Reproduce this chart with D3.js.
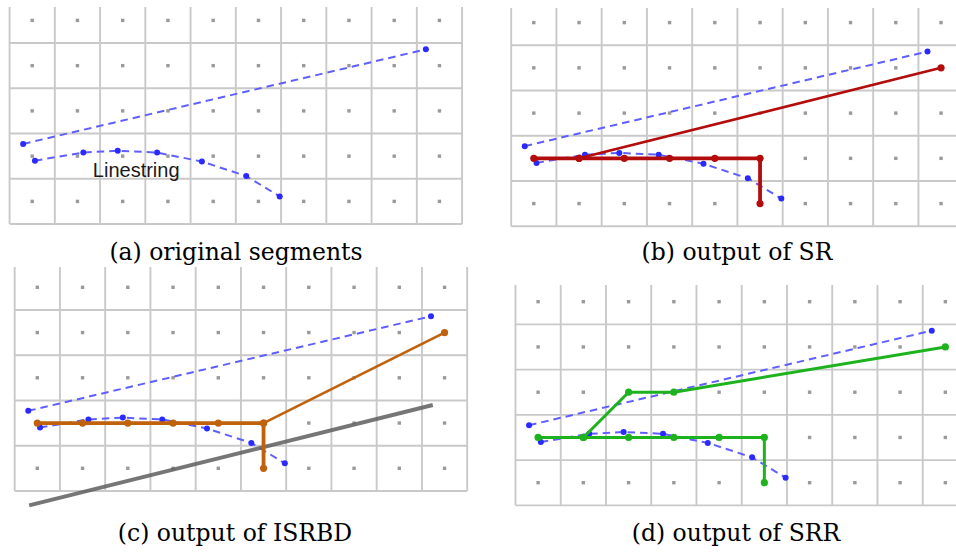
<!DOCTYPE html>
<html>
<head>
<meta charset="utf-8">
<script src="https://cdn.jsdelivr.net/npm/d3@7"></script>
<style>
  html, body { margin: 0; padding: 0; background: #fff; }
  svg { display: block; }
</style>
</head>
<body>
<svg id="chart" width="956" height="554"></svg>
<script>
// ---- data (grid units: column index 0..9, row index 0..4 top to bottom) ----
const gridCols = [0, 1, 2, 3, 4, 5, 6, 7, 8, 9];
const gridRows = [0, 1, 2, 3, 4];

const longSegment = [[-0.2, 2.73], [8.7, 0.64]];
const linestring = [[0.06, 3.1], [1.13, 2.92], [1.89, 2.88], [2.76, 2.92], [3.75, 3.12], [4.73, 3.44], [5.47, 3.89]];

const baseRun = [[0, 3], [1, 3], [2, 3], [3, 3], [4, 3], [5, 3], [5, 4]];
const srBranch = [[1, 3], [9, 1]];
const isrbdBranch = [[5, 3], [9, 1]];
const isrbdBoundary = [[-0.18, 4.82], [8.74, 2.6]];
const srrBranch = [[1, 3], [2, 2], [3, 2], [9, 1]];

const captions = ["(a) original segments", "(b) output of SR", "(c) output of ISRBD", "(d) output of SRR"];

// ---- layout ----
const cell = 45.25;
const panels = [
  { id: "a", cx: 32.2, cy: 20.4, top: 7, right: 956, capX: 236, capY: 260 },
  { id: "b", cx: 533.8, cy: 22.6, top: 8, right: 956, capX: 737, capY: 260 },
  { id: "c", cx: 37.3, cy: 287.3, top: 267, right: 956, capX: 235, capY: 541 },
  { id: "d", cx: 538.1, cy: 301.7, top: 285, right: 956, capX: 736, capY: 541 }
];

const svg = d3.select("#chart");
const defs = svg.append("defs");

panels.forEach((p, i) => {
  const x = d3.scaleLinear().domain([0, 1]).range([p.cx, p.cx + cell]);
  const y = d3.scaleLinear().domain([0, 1]).range([p.cy, p.cy + cell]);
  const line = d3.line().x(d => x(d[0])).y(d => y(d[1]));

  const x0 = x(-0.5), x1 = x(gridCols.length - 0.5);
  const y1 = y(gridRows.length - 0.5);

  defs.append("clipPath").attr("id", "clip" + p.id)
    .append("rect")
    .attr("x", x0 - 2).attr("y", p.top)
    .attr("width", Math.min(x1, p.right) - x0 + 4)
    .attr("height", y1 - p.top + 2);

  const g = svg.append("g");
  const grid = g.append("g").attr("clip-path", `url(#clip${p.id})`);

  // vertical grid lines
  const vb = d3.range(gridCols.length + 1).map(k => k - 0.5);
  grid.selectAll("line.v").data(vb).join("line")
    .attr("x1", d => x(d)).attr("x2", d => x(d))
    .attr("y1", y(-0.5) - 5).attr("y2", y1)
    .attr("stroke", "#c9c9c9").attr("stroke-width", 1.9);
  // horizontal grid lines
  const hb = d3.range(1, gridRows.length + 1).map(k => k - 0.5);
  grid.selectAll("line.h").data(hb).join("line")
    .attr("x1", x0).attr("x2", x1)
    .attr("y1", d => y(d)).attr("y2", d => y(d))
    .attr("stroke", "#c9c9c9").attr("stroke-width", 1.9);
  // cell centre dots
  const centres = gridRows.flatMap(r => gridCols.map(c => [c, r]));
  grid.selectAll("rect.dot").data(centres).join("rect")
    .attr("x", d => x(d[0]) - 1.7).attr("y", d => y(d[1]) - 1.7)
    .attr("width", 3.4).attr("height", 3.4)
    .attr("fill", "#9a9a9a");

  // original segments (blue dashed)
  [longSegment, linestring].forEach(seg => {
    g.append("path").attr("d", line(seg))
      .attr("fill", "none").attr("stroke", "#5f5fff")
      .attr("stroke-width", 2).attr("stroke-dasharray", "7.5,5");
    g.selectAll(null).data(seg).join("circle")
      .attr("cx", d => x(d[0])).attr("cy", d => y(d[1]))
      .attr("r", 3).attr("fill", "#2a2aff");
  });

  const drawOutput = (paths, colour, widths, r) => {
    paths.forEach((seg, k) => {
      g.append("path").attr("d", line(seg))
        .attr("fill", "none").attr("stroke", colour)
        .attr("stroke-width", widths[k]).attr("stroke-linejoin", "round");
    });
    paths.forEach(seg => {
      g.selectAll(null).data(seg).join("circle")
        .attr("cx", d => x(d[0])).attr("cy", d => y(d[1]))
        .attr("r", r).attr("fill", colour);
    });
  };

  if (p.id === "a") {
    g.append("text").attr("x", x(1.34)).attr("y", y(3.46))
      .attr("font-family", "Liberation Sans, Arial, sans-serif")
      .attr("font-size", 20).attr("fill", "#1a1a1a").text("Linestring");
  }
  if (p.id === "b") {
    drawOutput([srBranch, baseRun], "#b30c0c", [2.6, 3.8], 3.6);
  }
  if (p.id === "c") {
    g.append("path").attr("d", line(isrbdBoundary))
      .attr("fill", "none").attr("stroke", "#5e5e5e").attr("stroke-opacity", 0.85)
      .attr("stroke-width", 4);
    drawOutput([isrbdBranch, baseRun], "#c0620c", [2.6, 3.8], 3.6);
  }
  if (p.id === "d") {
    drawOutput([srrBranch, baseRun], "#1eb31e", [3, 3], 3.6);
  }

  svg.append("text").attr("x", p.capX).attr("y", p.capY)
    .attr("text-anchor", "middle")
    .attr("font-family", "DejaVu Serif, serif")
    .attr("font-size", 23.5).attr("fill", "#000")
    .text(captions[i]);
});
</script>
</body>
</html>
